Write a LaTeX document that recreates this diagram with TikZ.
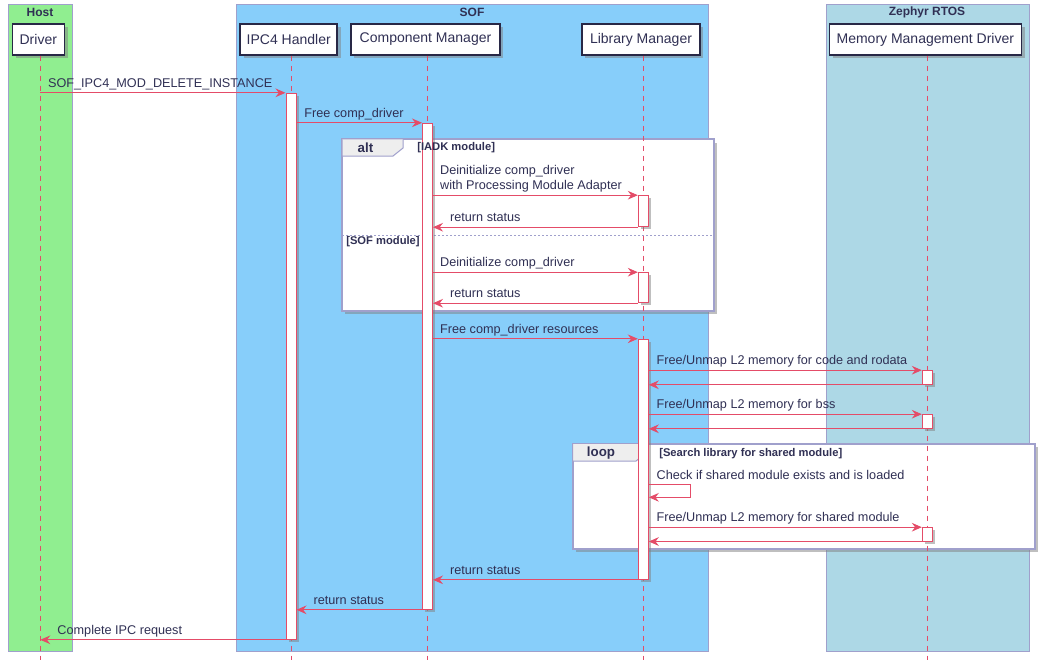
\documentclass[tikz,border=0pt]{standalone}
\usepackage{fontspec}
\setmainfont{Liberation Sans}
\usetikzlibrary{arrows.meta, positioning, fit, shadows, calc}
\definecolor{hostgreen}{RGB}{144,238,144}
\definecolor{sofblue}{RGB}{135,206,250}
\definecolor{zephyrblue}{RGB}{173,216,230}
\definecolor{seqred}{RGB}{228,76,104}
\definecolor{inkblue}{RGB}{48,48,84}
\definecolor{boxline}{RGB}{160,160,204}
\definecolor{headline}{RGB}{40,40,70}
\definecolor{tabgray}{RGB}{238,238,238}

\begin{document}
\begin{tikzpicture}[x=0.75pt, y=-0.75pt,
    every node/.style={text=inkblue, font=\fontsize{9.5}{11.5}\selectfont},
    grpbox/.style={draw=boxline, line width=0.75pt},
    grptitle/.style={font=\fontsize{9}{11}\selectfont\bfseries, inner sep=0pt},
    head/.style={draw=headline, fill=white, line width=1.1pt, minimum height=23.25pt, inner sep=0pt,
      font=\fontsize{10.5}{12}\selectfont,
      drop shadow={shadow xshift=2.5pt, shadow yshift=-2.5pt, fill=black!50, opacity=0.5}},
    lifeline/.style={draw=seqred, line width=0.75pt, dash pattern=on 3.75pt off 3.75pt},
    actbar/.style={draw=seqred, fill=white, line width=0.75pt, inner sep=0pt, minimum width=7.5pt,
      drop shadow={shadow xshift=2pt, shadow yshift=-2pt, fill=black!50, opacity=0.5}},
    msg/.style={draw=seqred, line width=0.75pt, -{Stealth[length=7.5pt, width=6.5pt, inset=2.5pt]}},
    lbl/.style={anchor=base west, inner sep=0pt, yshift=4pt},
    rlbl/.style={lbl, pos=1, xshift=12.5pt},
    grpframe/.style={draw=boxline, fill=white, line width=1.5pt,
      drop shadow={shadow xshift=2.5pt, shadow yshift=-2.5pt, fill=black!50, opacity=0.5}},
    grptab/.style={draw=boxline, fill=tabgray, line width=0.75pt},
    grpsep/.style={draw=boxline, line width=0.6pt, dash pattern=on 1.5pt off 1.5pt},
    grpkey/.style={font=\fontsize{10}{12}\selectfont\bfseries, inner sep=0pt},
    grpcond/.style={font=\fontsize{8.4}{10}\selectfont\bfseries, anchor=west, inner sep=0pt}
  ]
  \useasboundingbox (0,0) rectangle (1045,668);

  % Boxes
  \draw[grpbox, fill=hostgreen] (8,4.5) rectangle (72,651);
  \node[grptitle] (hostT) at (40,12.5) {Host};
  \draw[grpbox, fill=sofblue] (236,4.5) rectangle (708,651);
  \node[grptitle] (sofT) at (472,12.5) {SOF};
  \draw[grpbox, fill=zephyrblue] (826,4.5) rectangle (1029,651);
  \node[grptitle] (zepT) at (927,12.5) {Zephyr RTOS};

  % Participants
  \node[head, minimum width=39pt] (drv) at (38.3,39.5) {Driver};
  \node[head, minimum width=72.75pt] (ipc) at (288.7,39.5) {IPC4 Handler};
  \node[head, minimum width=111.75pt] (comp) at (425.5,39.5) {Component Manager};
  \node[head, minimum width=88.5pt] (lib) at (641,39.5) {Library Manager};
  \node[head, minimum width=144pt] (mmd) at (925.3,39.5) {Memory Management Driver};

  % Groups
  \draw[grpframe] (342,139.3) rectangle (714,310.5);
  \filldraw[grptab] (342,139.3) -- (342,156) -- (393,156) -- (403,148) -- (403,139.3);
  \draw[grpsep] (342,235.3) -- (714,235.3);

  \draw[grpframe] (572.7,444) rectangle (1035,549);
  \filldraw[grptab] (572.7,444) -- (572.7,461) -- (636,461) -- (646,453) -- (646,444);

  % Lifelines
  \coordinate (drvEnd) at (40.3,660);
  \coordinate (ipcEnd) at (291,660);
  \coordinate (compEnd) at (427.5,660);
  \coordinate (libEnd) at (643.3,660);
  \coordinate (mmdEnd) at (927.3,660);
  \draw[lifeline] (drv.south -| drvEnd) -- (drvEnd);
  \draw[lifeline] (ipc.south -| ipcEnd) -- (ipcEnd);
  \draw[lifeline] (comp.south -| compEnd) -- (compEnd);
  \draw[lifeline] (lib.south -| libEnd) -- (libEnd);
  \draw[lifeline] (mmd.south -| mmdEnd) -- (mmdEnd);

  % Activations
  \node[actbar, fit={(291,93.3) (291,639.3)}] (ipcA) {};
  \node[actbar, fit={(427.5,123.3) (427.5,609.3)}] (compA) {};
  \node[actbar, fit={(643.3,195.7) (643.3,226.7)}] (libA1) {};
  \node[actbar, fit={(643.3,272.7) (643.3,302.7)}] (libA2) {};
  \node[actbar, fit={(643.3,339.3) (643.3,579.3)}] (libA3) {};
  \node[actbar, fit={(927.3,370.7) (927.3,384.3)}] (mmdA1) {};
  \node[actbar, fit={(927.3,414.7) (927.3,428.3)}] (mmdA2) {};
  \node[actbar, fit={(927.3,527.7) (927.3,541)}] (mmdA3) {};

  % Group labels
  \node[grpkey] (altK) at (365.5,148) {alt};
  \node[grpcond] (altC1) at (417,148) {[IADK module]};
  \node[grpcond] (altC2) at (346,242) {[SOF module]};
  \node[grpkey] (loopK) at (601,453.3) {loop};
  \node[grpcond] (loopC) at (659,453.3) {[Search library for shared module]};

  % Messages
  \draw[msg] (drvEnd |- ipcA.north) -- (ipcA.north west)
    node[lbl, pos=0, xshift=5.5pt] (m1) {SOF\_IPC4\_MOD\_DELETE\_INSTANCE};
  \draw[msg] (ipcA.east |- compA.north) -- (compA.north west)
    node[lbl, pos=0, xshift=5.5pt] (m2) {Free comp\_driver};

  \draw[msg] (compA.east |- libA1.north) -- (libA1.north west)
    node[lbl, pos=0, xshift=5pt, align=left] (m3) {Deinitialize comp\_driver\\with Processing Module Adapter};
  \draw[msg] (libA1.south west) -- (compA.east |- libA1.south)
    node[rlbl] (m4) {return status};
  \draw[msg] (compA.east |- libA2.north) -- (libA2.north west)
    node[lbl, pos=0, xshift=5pt] (m5) {Deinitialize comp\_driver};
  \draw[msg] (libA2.south west) -- (compA.east |- libA2.south)
    node[rlbl] (m6) {return status};

  \draw[msg] (compA.east |- libA3.north) -- (libA3.north west)
    node[lbl, pos=0, xshift=5pt] (m7) {Free comp\_driver resources};
  \draw[msg] (libA3.east |- mmdA1.north) -- (mmdA1.north west)
    node[lbl, pos=0, xshift=5.5pt] (m8) {Free/Unmap L2 memory for code and rodata};
  \draw[msg] (mmdA1.south west) -- (libA3.east |- mmdA1.south);
  \draw[msg] (libA3.east |- mmdA2.north) -- (mmdA2.north west)
    node[lbl, pos=0, xshift=5.5pt] (m9) {Free/Unmap L2 memory for bss};
  \draw[msg] (mmdA2.south west) -- (libA3.east |- mmdA2.south);

  \coordinate (selfTop) at (690.3,484.7);
  \coordinate (selfBot) at (690.3,497.3);
  \draw[msg] (libA3.east |- selfTop) -- (selfTop)
    node[lbl, pos=0, xshift=5.5pt] (m10) {Check if shared module exists and is loaded}
    -- (selfBot) -- (libA3.east |- selfBot);
  \draw[msg] (libA3.east |- mmdA3.north) -- (mmdA3.north west)
    node[lbl, pos=0, xshift=5.5pt] (m11) {Free/Unmap L2 memory for shared module};
  \draw[msg] (mmdA3.south west) -- (libA3.east |- mmdA3.south);

  \draw[msg] (libA3.south west) -- (compA.east |- libA3.south)
    node[rlbl] (m12) {return status};
  \draw[msg] (compA.south west) -- (ipcA.east |- compA.south)
    node[rlbl] (m13) {return status};
  \draw[msg] (ipcA.south west) -- (drvEnd |- ipcA.south)
    node[rlbl] (m14) {Complete IPC request};
\end{tikzpicture}
\end{document}
